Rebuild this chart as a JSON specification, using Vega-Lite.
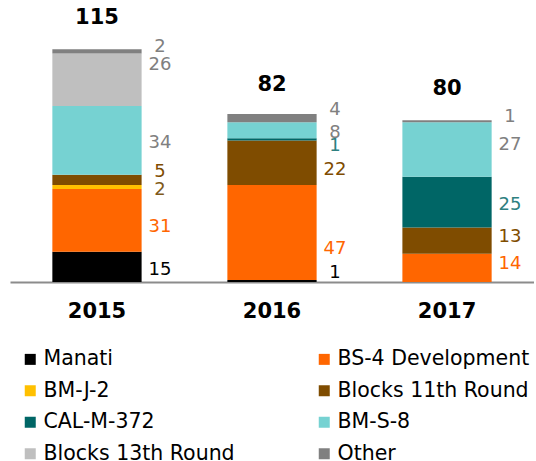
{
  "$schema": "https://vega.github.io/schema/vega-lite/v6.json",
  "width": 524,
  "height": 282,
  "padding": {"left": 10, "top": 0, "right": 0, "bottom": 0},
  "config": {
    "font": "DejaVu Sans",
    "view": {"stroke": null},
    "axisX": {"labelAngle": 0, "labelFontSize": 21, "labelFontWeight": "bold", "labelColor": "#000000", "domainColor": "#8c8c8c", "domainWidth": 2, "ticks": false, "tickSize": 0, "labelPadding": 18, "grid": false}
  },
  "datasets": {
    "main": [
      {"year": "2015", "series": "Manati", "value": 15},
      {"year": "2015", "series": "BS-4 Development", "value": 31},
      {"year": "2015", "series": "BM-J-2", "value": 2},
      {"year": "2015", "series": "Blocks 11th Round", "value": 5},
      {"year": "2015", "series": "BM-S-8", "value": 34},
      {"year": "2015", "series": "Blocks 13th Round", "value": 26},
      {"year": "2015", "series": "Other", "value": 2},
      {"year": "2016", "series": "Manati", "value": 1},
      {"year": "2016", "series": "BS-4 Development", "value": 47},
      {"year": "2016", "series": "Blocks 11th Round", "value": 22},
      {"year": "2016", "series": "CAL-M-372", "value": 1},
      {"year": "2016", "series": "BM-S-8", "value": 8},
      {"year": "2016", "series": "Other", "value": 4},
      {"year": "2017", "series": "BS-4 Development", "value": 14},
      {"year": "2017", "series": "Blocks 11th Round", "value": 13},
      {"year": "2017", "series": "CAL-M-372", "value": 25},
      {"year": "2017", "series": "BM-S-8", "value": 27},
      {"year": "2017", "series": "Other", "value": 1}
    ],
    "totals": [
      {"year": "2015", "total": 115},
      {"year": "2016", "total": 82},
      {"year": "2017", "total": 80}
    ]
  },
  "layer": [
    {
      "data": {"name": "main"},
      "transform": [
        {"calculate": "indexof(['Manati','BS-4 Development','BM-J-2','Blocks 11th Round','CAL-M-372','BM-S-8','Blocks 13th Round','Other'], datum.series)", "as": "ord"},
        {"stack": "value", "groupby": ["year"], "sort": [{"field": "ord", "order": "ascending"}], "as": ["v0", "v1"]},
        {"calculate": "(datum.v0 + datum.v1) / 2", "as": "mid"},
        {"calculate": "datum.year + '|' + datum.series", "as": "key"}
      ],
      "layer": [
        {
          "mark": {"type": "bar"},
          "encoding": {
            "x": {"field": "year", "type": "nominal", "title": null, "scale": {"paddingInner": 0.49, "paddingOuter": 0.242}},
            "y": {"field": "v0", "type": "quantitative", "axis": null, "scale": {"domain": [0, 139.4], "nice": false}},
            "y2": {"field": "v1"},
            "color": {
              "field": "series", "type": "nominal",
              "scale": {
                "domain": ["Manati", "BS-4 Development", "BM-J-2", "Blocks 11th Round", "CAL-M-372", "BM-S-8", "Blocks 13th Round", "Other"],
                "range": ["#000000", "#FF6600", "#FFC000", "#7F4C00", "#006666", "#76D2D2", "#BFBFBF", "#808080"]
              },
              "legend": {"orient": "none", "direction": "horizontal", "legendX": 10, "legendY": 349, "columns": 2, "title": null, "symbolType": "square", "symbolSize": 121, "symbolStrokeWidth": 0, "labelFontSize": 20.5, "labelColor": "#000000", "rowPadding": 10.5, "columnPadding": 79, "labelOffset": 3, "labelLimit": 400}
            }
          }
        },
        {
          "transform": [{"filter": "indexof(['2016|BS-4 Development'], datum.key) >= 0"}],
          "mark": {"type": "text", "align": "center", "baseline": "middle", "fontSize": 18, "dx": 63, "dy": 17},
          "encoding": {
            "x": {"field": "year", "type": "nominal", "title": null},
            "y": {"field": "mid", "type": "quantitative", "axis": null},
            "text": {"field": "value", "type": "quantitative"},
            "fill": {"field": "series", "type": "nominal", "legend": null, "scale": {"domain": ["Manati", "BS-4 Development", "BM-J-2", "Blocks 11th Round", "CAL-M-372", "BM-S-8", "Blocks 13th Round", "Other"], "range": ["#000000", "#FF6600", "#7F5A1A", "#7F4C00", "#2E8080", "#808080", "#808080", "#808080"]}}
          }
        },
        {
          "transform": [{"filter": "indexof(['2015|Blocks 13th Round'], datum.key) >= 0"}],
          "mark": {"type": "text", "align": "center", "baseline": "middle", "fontSize": 18, "dx": 63, "dy": -15},
          "encoding": {
            "x": {"field": "year", "type": "nominal", "title": null},
            "y": {"field": "mid", "type": "quantitative", "axis": null},
            "text": {"field": "value", "type": "quantitative"},
            "fill": {"field": "series", "type": "nominal", "legend": null}
          }
        },
        {
          "transform": [{"filter": "indexof(['2015|Blocks 11th Round','2016|Manati','2016|Other'], datum.key) >= 0"}],
          "mark": {"type": "text", "align": "center", "baseline": "middle", "fontSize": 18, "dx": 63, "dy": -8},
          "encoding": {
            "x": {"field": "year", "type": "nominal", "title": null},
            "y": {"field": "mid", "type": "quantitative", "axis": null},
            "text": {"field": "value", "type": "quantitative"},
            "fill": {"field": "series", "type": "nominal", "legend": null}
          }
        },
        {
          "transform": [{"filter": "indexof(['2015|BS-4 Development','2016|Blocks 11th Round','2016|CAL-M-372'], datum.key) >= 0"}],
          "mark": {"type": "text", "align": "center", "baseline": "middle", "fontSize": 18, "dx": 63, "dy": 7},
          "encoding": {
            "x": {"field": "year", "type": "nominal", "title": null},
            "y": {"field": "mid", "type": "quantitative", "axis": null},
            "text": {"field": "value", "type": "quantitative"},
            "fill": {"field": "series", "type": "nominal", "legend": null}
          }
        },
        {
          "transform": [{"filter": "indexof(['2015|Manati','2015|BM-J-2','2015|BM-S-8','2016|BM-S-8','2017|CAL-M-372'], datum.key) >= 0"}],
          "mark": {"type": "text", "align": "center", "baseline": "middle", "fontSize": 18, "dx": 63, "dy": 3},
          "encoding": {
            "x": {"field": "year", "type": "nominal", "title": null},
            "y": {"field": "mid", "type": "quantitative", "axis": null},
            "text": {"field": "value", "type": "quantitative"},
            "fill": {"field": "series", "type": "nominal", "legend": null}
          }
        },
        {
          "transform": [{"filter": "indexof(['2015|Other','2017|Other','2017|BS-4 Development','2017|Blocks 11th Round','2017|BM-S-8'], datum.key) >= 0"}],
          "mark": {"type": "text", "align": "center", "baseline": "middle", "fontSize": 18, "dx": 63, "dy": -4},
          "encoding": {
            "x": {"field": "year", "type": "nominal", "title": null},
            "y": {"field": "mid", "type": "quantitative", "axis": null},
            "text": {"field": "value", "type": "quantitative"},
            "fill": {"field": "series", "type": "nominal", "legend": null}
          }
        }
      ]
    },
    {
      "data": {"name": "totals"},
      "mark": {"type": "text", "align": "center", "baseline": "middle", "fontSize": 21, "fontWeight": "bold", "dy": -31, "color": "#000000"},
      "encoding": {
        "x": {"field": "year", "type": "nominal", "title": null},
        "y": {"field": "total", "type": "quantitative", "axis": null},
        "text": {"field": "total", "type": "quantitative"}
      }
    }
  ]
}
